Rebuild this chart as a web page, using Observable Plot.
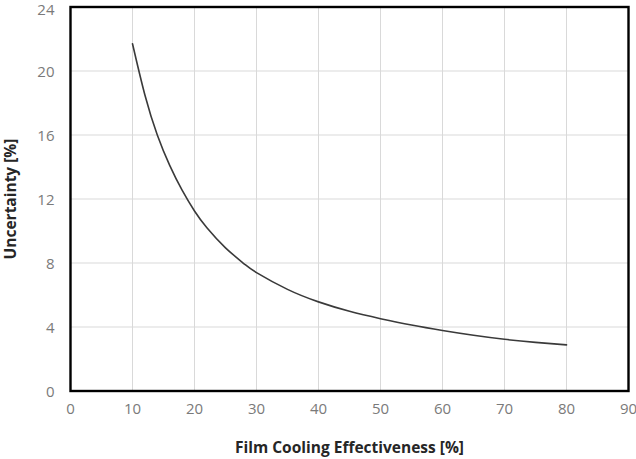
<!DOCTYPE html>
<html>
<head>
<meta charset="utf-8">
<script src="https://cdn.jsdelivr.net/npm/d3@7"></script>
<script src="https://cdn.jsdelivr.net/npm/@observablehq/plot@0.6"></script>
<style>
  html, body { margin: 0; padding: 0; background: #fff; }
  svg { display: block; }
</style>
</head>
<body>
<div id="chart"></div>
<script>
const effectiveness = [10, 12, 14, 16, 18, 20, 22, 25, 28, 30, 35, 40, 45, 50, 55, 60, 65, 70, 75, 80];
const uncertainty   = [21.7, 18.5, 16.0, 14.1, 12.55, 11.25, 10.2, 8.95, 7.95, 7.4, 6.35, 5.57, 4.98, 4.52, 4.12, 3.78, 3.48, 3.23, 3.04, 2.88];
const xTicks = [0, 10, 20, 30, 40, 50, 60, 70, 80, 90];
const yTicks = [0, 4, 8, 12, 16, 20, 24];
const xTitle = "Film Cooling Effectiveness [%]";
const yTitle = "Uncertainty [%]";

const data = effectiveness.map((x, i) => ({x, y: uncertainty[i]}));
const yTop = yTicks[yTicks.length - 1];
const yInner = yTicks.filter(t => t !== yTop);

const chart = Plot.plot({
  width: 636,
  height: 459,
  marginLeft: 70,
  marginRight: 8,
  marginTop: 6.5,
  marginBottom: 68.5,
  style: {fontFamily: "'Open Sans', sans-serif", fontSize: "14px", color: "#7a7a7a", background: "#fff"},
  x: {domain: [0, 90], ticks: xTicks, label: null},
  y: {domain: [0, 24], ticks: yTicks, label: null},
  marks: [
    Plot.gridX(xTicks, {stroke: "#d9d9d9", strokeOpacity: 1, strokeWidth: 1}),
    Plot.gridY(yTicks, {stroke: "#d9d9d9", strokeOpacity: 1, strokeWidth: 1}),
    Plot.axisX(xTicks, {tickSize: 0, tickPadding: 12, fill: "#7a7a7a", fontSize: 15}),
    Plot.axisY(yInner, {tickSize: 0, tickPadding: 16, dy: 1.5, fill: "#7a7a7a", fontSize: 15}),
    Plot.axisY([yTop], {tickSize: 0, tickPadding: 16, dy: 3, fill: "#7a7a7a", fontSize: 15}),
    Plot.line(data, {x: "x", y: "y", curve: "natural", stroke: "#3a3a3a", strokeWidth: 1.6}),
    Plot.frame({stroke: "#000", strokeWidth: 2.4}),
    Plot.text([xTitle], {text: d => d, frameAnchor: "bottom", lineAnchor: "middle", textAnchor: "middle", dy: 57, fontWeight: "bold", fontSize: 15.5, fill: "#262626"}),
    Plot.text([yTitle], {text: d => d, frameAnchor: "left", lineAnchor: "middle", textAnchor: "middle", dx: -59, rotate: -90, fontWeight: "bold", fontSize: 15.5, fill: "#262626"})
  ]
});
document.getElementById("chart").appendChild(chart);
</script>
</body>
</html>
